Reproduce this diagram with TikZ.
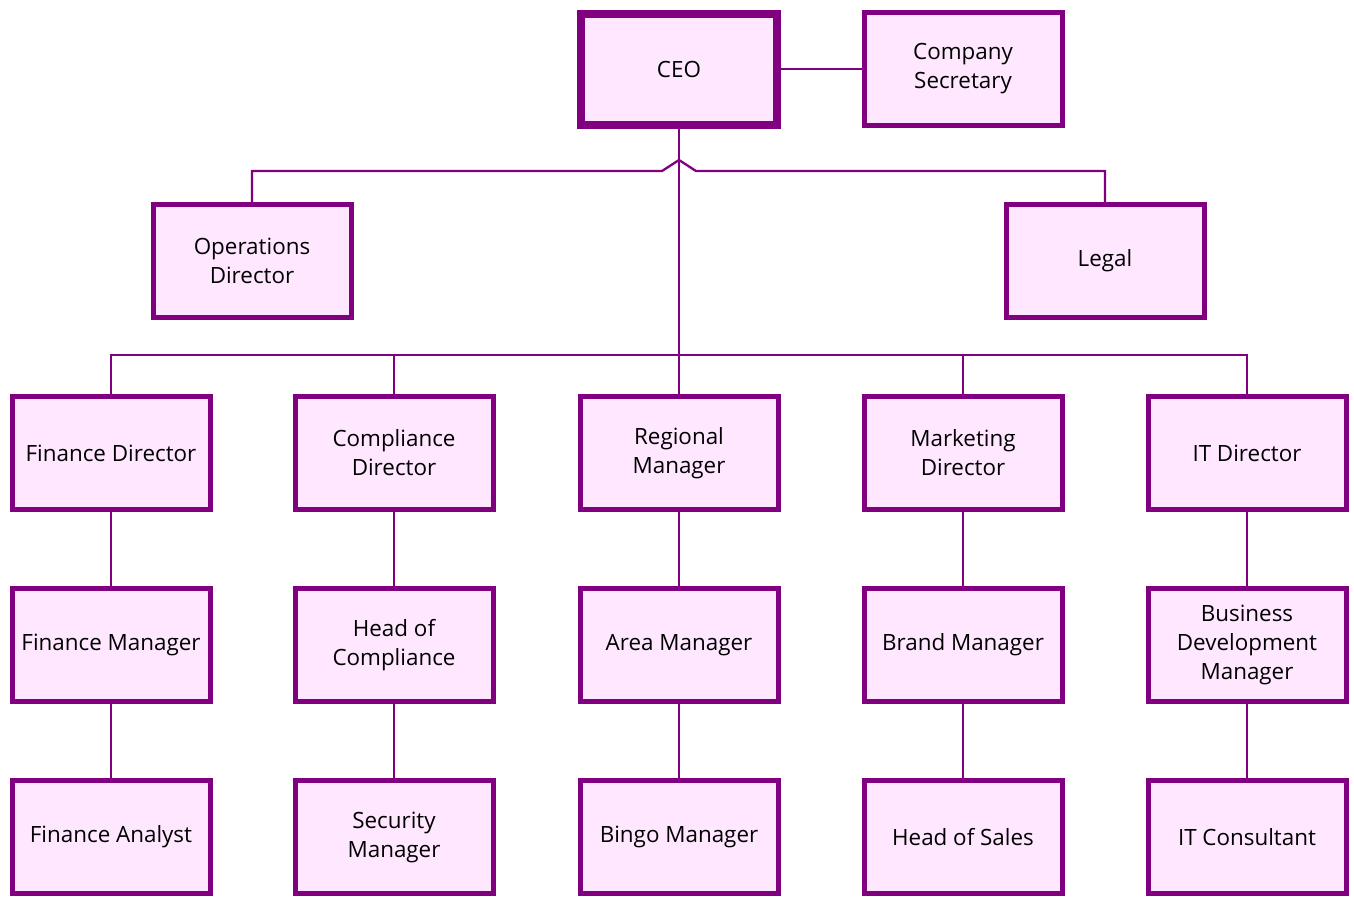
\documentclass[tikz,border=0pt]{standalone}
\usepackage{fontspec}
\setmainfont{Open Sans}
\usepackage{tikz}
\usetikzlibrary{positioning,calc}
\definecolor{plum}{RGB}{128,0,128}
\definecolor{blush}{RGB}{255,232,255}

\begin{document}
\begin{tikzpicture}[x=0.5pt, y=-0.5pt,
node distance={96pt}, line width=1.15pt,
rolebox/.style={rectangle, draw=plum, fill=blush, line width=2.5pt, minimum width=99pt, minimum height=56.5pt, align=center},
topbox/.style={rolebox, line width=4pt, minimum width=98pt, minimum height=55.5pt}]
\tikzstyle{every node}=[font=\fontsize{11.2pt}{14.5pt}\selectfont]
\useasboundingbox (0,0) rectangle (1354,896);
\node[topbox] (ceo) at (679,69) {CEO};
\node[rolebox] (secretary) [right of=ceo, node distance=142pt] {Company\\Secretary};
\node[rolebox] (opsdir) [below of=ceo, xshift=-213.5pt] {Operations\\Director};
\node[rolebox] (legal) [below of=ceo, xshift=213pt] {Legal};
\node[rolebox] (regional) [below of=ceo, yshift=-96pt] {Regional\\Manager};
\node[rolebox] (compliance) [left of=regional, node distance=142.5pt] {Compliance\\Director};
\node[rolebox] (finance) [left of=compliance, node distance=141.5pt] {Finance Director};
\node[rolebox] (marketing) [right of=regional, node distance=142pt] {Marketing\\Director};
\node[rolebox] (itdir) [right of=marketing, node distance=142pt] {IT Director};
\node[rolebox] (finmgr) [below of=finance] {Finance Manager};
\node[rolebox] (headcomp) [below of=compliance] {Head of\\Compliance};
\node[rolebox] (area) [below of=regional] {Area Manager};
\node[rolebox] (brand) [below of=marketing] {Brand Manager};
\node[rolebox] (bizdev) [below of=itdir] {Business\\Development\\Manager};
\node[rolebox] (analyst) [below of=finmgr] {Finance Analyst};
\node[rolebox] (security) [below of=headcomp] {Security\\Manager};
\node[rolebox] (bingo) [below of=area] {Bingo Manager};
\node[rolebox] (sales) [below of=brand] {Head of Sales};
\node[rolebox] (itcons) [below of=bizdev] {IT Consultant};
\draw[plum] (ceo) -- (secretary);
\draw[plum] (ceo.south) -- (regional.north);
\draw[plum] (opsdir.north) -- ++(0,-31) coordinate (l1)
  -- ($(l1 -| ceo)+(-17,0)$) -- ($(l1 -| ceo)+(0,-11)$) -- ($(l1 -| ceo)+(17,0)$) -| (legal.north);
\draw[plum] (finance.north) -- ++(0,-39) -| (itdir.north);
\draw[plum] (compliance.north) -- ++(0,-39);
\draw[plum] (marketing.north) -- ++(0,-39);
\draw[plum] (finance) -- (finmgr) -- (analyst);
\draw[plum] (compliance) -- (headcomp) -- (security);
\draw[plum] (regional) -- (area) -- (bingo);
\draw[plum] (marketing) -- (brand) -- (sales);
\draw[plum] (itdir) -- (bizdev) -- (itcons);
\end{tikzpicture}
\end{document}
